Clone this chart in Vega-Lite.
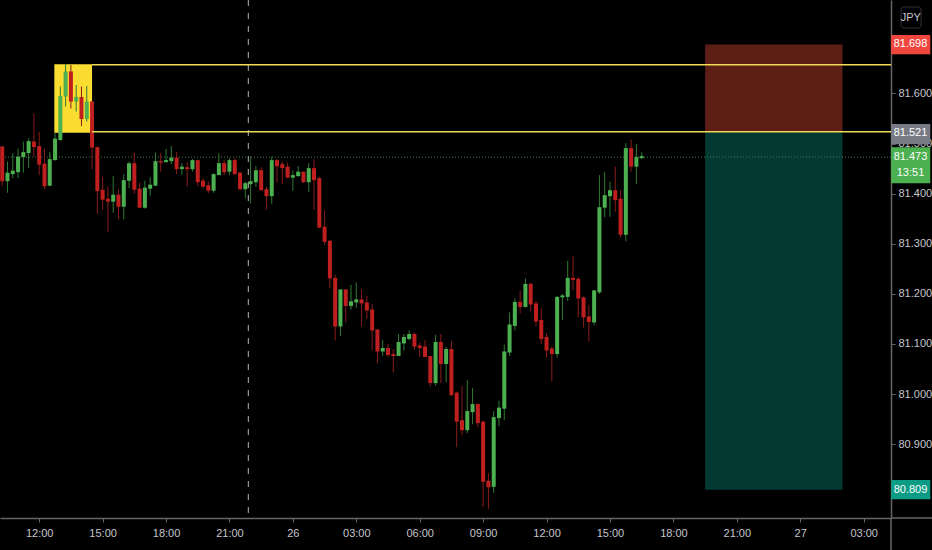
{
  "$schema": "https://vega.github.io/schema/vega-lite/v6.json",
  "description": "JPY pair 15 minute candles with a short position box.",
  "autosize": {"type": "none"},
  "width": 891,
  "height": 518,
  "padding": {"left": 0, "top": 0, "right": 41, "bottom": 32},
  "background": "#000000",
  "config": {"view": {"stroke": null}},
  "datasets": {
    "candles": [
      {"t":"2020-08-25T10:15","o":81.494,"h":81.495,"l":81.415,"c":81.425},
      {"t":"2020-08-25T10:30","o":81.425,"h":81.464,"l":81.402,"c":81.442},
      {"t":"2020-08-25T10:45","o":81.439,"h":81.481,"l":81.431,"c":81.446},
      {"t":"2020-08-25T11:00","o":81.443,"h":81.490,"l":81.431,"c":81.474},
      {"t":"2020-08-25T11:15","o":81.473,"h":81.504,"l":81.442,"c":81.483},
      {"t":"2020-08-25T11:30","o":81.481,"h":81.511,"l":81.451,"c":81.505},
      {"t":"2020-08-25T11:45","o":81.504,"h":81.560,"l":81.474,"c":81.493},
      {"t":"2020-08-25T12:00","o":81.495,"h":81.523,"l":81.437,"c":81.458},
      {"t":"2020-08-25T12:15","o":81.460,"h":81.490,"l":81.409,"c":81.415},
      {"t":"2020-08-25T12:30","o":81.416,"h":81.483,"l":81.415,"c":81.469},
      {"t":"2020-08-25T12:45","o":81.467,"h":81.521,"l":81.466,"c":81.510},
      {"t":"2020-08-25T13:00","o":81.507,"h":81.614,"l":81.506,"c":81.595},
      {"t":"2020-08-25T13:15","o":81.594,"h":81.659,"l":81.574,"c":81.644},
      {"t":"2020-08-25T13:30","o":81.644,"h":81.657,"l":81.570,"c":81.584},
      {"t":"2020-08-25T13:45","o":81.584,"h":81.617,"l":81.564,"c":81.593},
      {"t":"2020-08-25T14:00","o":81.593,"h":81.614,"l":81.535,"c":81.549},
      {"t":"2020-08-25T14:15","o":81.549,"h":81.615,"l":81.544,"c":81.584},
      {"t":"2020-08-25T14:30","o":81.584,"h":81.584,"l":81.449,"c":81.492},
      {"t":"2020-08-25T14:45","o":81.493,"h":81.493,"l":81.360,"c":81.405},
      {"t":"2020-08-25T15:00","o":81.408,"h":81.434,"l":81.368,"c":81.388},
      {"t":"2020-08-25T15:15","o":81.390,"h":81.414,"l":81.324,"c":81.384},
      {"t":"2020-08-25T15:30","o":81.384,"h":81.435,"l":81.362,"c":81.398},
      {"t":"2020-08-25T15:45","o":81.398,"h":81.409,"l":81.349,"c":81.374},
      {"t":"2020-08-25T16:00","o":81.374,"h":81.439,"l":81.349,"c":81.427},
      {"t":"2020-08-25T16:15","o":81.426,"h":81.464,"l":81.411,"c":81.461},
      {"t":"2020-08-25T16:30","o":81.461,"h":81.482,"l":81.400,"c":81.408},
      {"t":"2020-08-25T16:45","o":81.410,"h":81.422,"l":81.372,"c":81.372},
      {"t":"2020-08-25T17:00","o":81.372,"h":81.426,"l":81.370,"c":81.412},
      {"t":"2020-08-25T17:15","o":81.410,"h":81.433,"l":81.396,"c":81.418},
      {"t":"2020-08-25T17:30","o":81.416,"h":81.482,"l":81.415,"c":81.465},
      {"t":"2020-08-25T17:45","o":81.465,"h":81.481,"l":81.444,"c":81.462},
      {"t":"2020-08-25T18:00","o":81.463,"h":81.489,"l":81.462,"c":81.467},
      {"t":"2020-08-25T18:15","o":81.465,"h":81.495,"l":81.459,"c":81.472},
      {"t":"2020-08-25T18:30","o":81.472,"h":81.483,"l":81.439,"c":81.449},
      {"t":"2020-08-25T18:45","o":81.449,"h":81.461,"l":81.437,"c":81.454},
      {"t":"2020-08-25T19:00","o":81.453,"h":81.463,"l":81.414,"c":81.449},
      {"t":"2020-08-25T19:15","o":81.449,"h":81.469,"l":81.444,"c":81.467},
      {"t":"2020-08-25T19:30","o":81.467,"h":81.467,"l":81.415,"c":81.423},
      {"t":"2020-08-25T19:45","o":81.426,"h":81.431,"l":81.411,"c":81.414},
      {"t":"2020-08-25T20:00","o":81.417,"h":81.425,"l":81.401,"c":81.406},
      {"t":"2020-08-25T20:15","o":81.406,"h":81.441,"l":81.402,"c":81.439},
      {"t":"2020-08-25T20:30","o":81.437,"h":81.481,"l":81.437,"c":81.461},
      {"t":"2020-08-25T20:45","o":81.461,"h":81.467,"l":81.437,"c":81.443},
      {"t":"2020-08-25T21:00","o":81.444,"h":81.471,"l":81.437,"c":81.467},
      {"t":"2020-08-25T21:15","o":81.467,"h":81.471,"l":81.437,"c":81.439},
      {"t":"2020-08-25T21:30","o":81.442,"h":81.444,"l":81.407,"c":81.409},
      {"t":"2020-08-25T21:45","o":81.409,"h":81.424,"l":81.391,"c":81.421},
      {"t":"2020-08-25T22:00","o":81.419,"h":81.474,"l":81.381,"c":81.425},
      {"t":"2020-08-25T22:15","o":81.423,"h":81.455,"l":81.414,"c":81.447},
      {"t":"2020-08-25T22:30","o":81.447,"h":81.453,"l":81.406,"c":81.407},
      {"t":"2020-08-25T22:45","o":81.409,"h":81.414,"l":81.368,"c":81.395},
      {"t":"2020-08-25T23:00","o":81.395,"h":81.474,"l":81.380,"c":81.467},
      {"t":"2020-08-25T23:15","o":81.467,"h":81.469,"l":81.422,"c":81.455},
      {"t":"2020-08-25T23:30","o":81.459,"h":81.464,"l":81.419,"c":81.451},
      {"t":"2020-08-25T23:45","o":81.454,"h":81.462,"l":81.431,"c":81.432},
      {"t":"2020-08-26T00:00","o":81.432,"h":81.446,"l":81.406,"c":81.437},
      {"t":"2020-08-26T00:15","o":81.435,"h":81.455,"l":81.434,"c":81.444},
      {"t":"2020-08-26T00:30","o":81.444,"h":81.444,"l":81.421,"c":81.423},
      {"t":"2020-08-26T00:45","o":81.423,"h":81.461,"l":81.404,"c":81.451},
      {"t":"2020-08-26T01:00","o":81.451,"h":81.469,"l":81.368,"c":81.427},
      {"t":"2020-08-26T01:15","o":81.431,"h":81.434,"l":81.332,"c":81.332},
      {"t":"2020-08-26T01:30","o":81.334,"h":81.367,"l":81.298,"c":81.304},
      {"t":"2020-08-26T01:45","o":81.306,"h":81.308,"l":81.211,"c":81.231},
      {"t":"2020-08-26T02:00","o":81.232,"h":81.238,"l":81.107,"c":81.135},
      {"t":"2020-08-26T02:15","o":81.135,"h":81.209,"l":81.116,"c":81.209},
      {"t":"2020-08-26T02:30","o":81.209,"h":81.209,"l":81.143,"c":81.176},
      {"t":"2020-08-26T02:45","o":81.176,"h":81.218,"l":81.169,"c":81.185},
      {"t":"2020-08-26T03:00","o":81.183,"h":81.223,"l":81.172,"c":81.189},
      {"t":"2020-08-26T03:15","o":81.189,"h":81.209,"l":81.136,"c":81.181},
      {"t":"2020-08-26T03:30","o":81.183,"h":81.196,"l":81.150,"c":81.167},
      {"t":"2020-08-26T03:45","o":81.169,"h":81.180,"l":81.087,"c":81.127},
      {"t":"2020-08-26T04:00","o":81.129,"h":81.129,"l":81.062,"c":81.085},
      {"t":"2020-08-26T04:15","o":81.085,"h":81.108,"l":81.076,"c":81.092},
      {"t":"2020-08-26T04:30","o":81.092,"h":81.100,"l":81.074,"c":81.078},
      {"t":"2020-08-26T04:45","o":81.080,"h":81.090,"l":81.043,"c":81.076},
      {"t":"2020-08-26T05:00","o":81.076,"h":81.120,"l":81.076,"c":81.104},
      {"t":"2020-08-26T05:15","o":81.101,"h":81.120,"l":81.087,"c":81.114},
      {"t":"2020-08-26T05:30","o":81.110,"h":81.127,"l":81.107,"c":81.120},
      {"t":"2020-08-26T05:45","o":81.120,"h":81.123,"l":81.088,"c":81.095},
      {"t":"2020-08-26T06:00","o":81.097,"h":81.103,"l":81.074,"c":81.092},
      {"t":"2020-08-26T06:15","o":81.095,"h":81.108,"l":81.074,"c":81.074},
      {"t":"2020-08-26T06:30","o":81.076,"h":81.076,"l":81.015,"c":81.022},
      {"t":"2020-08-26T06:45","o":81.022,"h":81.118,"l":81.017,"c":81.104},
      {"t":"2020-08-26T07:00","o":81.104,"h":81.120,"l":81.022,"c":81.060},
      {"t":"2020-08-26T07:15","o":81.060,"h":81.094,"l":81.024,"c":81.090},
      {"t":"2020-08-26T07:30","o":81.090,"h":81.106,"l":80.996,"c":80.998},
      {"t":"2020-08-26T07:45","o":81.003,"h":81.005,"l":80.894,"c":80.945},
      {"t":"2020-08-26T08:00","o":80.948,"h":81.016,"l":80.918,"c":80.928},
      {"t":"2020-08-26T08:15","o":80.928,"h":81.028,"l":80.922,"c":80.966},
      {"t":"2020-08-26T08:30","o":80.964,"h":81.012,"l":80.940,"c":80.980},
      {"t":"2020-08-26T08:45","o":80.980,"h":80.982,"l":80.934,"c":80.942},
      {"t":"2020-08-26T09:00","o":80.945,"h":80.947,"l":80.775,"c":80.825},
      {"t":"2020-08-26T09:15","o":80.827,"h":80.842,"l":80.771,"c":80.814},
      {"t":"2020-08-26T09:30","o":80.815,"h":80.966,"l":80.803,"c":80.954},
      {"t":"2020-08-26T09:45","o":80.952,"h":80.987,"l":80.936,"c":80.973},
      {"t":"2020-08-26T10:00","o":80.971,"h":81.099,"l":80.948,"c":81.085},
      {"t":"2020-08-26T10:15","o":81.083,"h":81.163,"l":81.076,"c":81.139},
      {"t":"2020-08-26T10:30","o":81.136,"h":81.191,"l":81.127,"c":81.184},
      {"t":"2020-08-26T10:45","o":81.184,"h":81.207,"l":81.161,"c":81.174},
      {"t":"2020-08-26T11:00","o":81.174,"h":81.231,"l":81.173,"c":81.220},
      {"t":"2020-08-26T11:15","o":81.220,"h":81.222,"l":81.165,"c":81.179},
      {"t":"2020-08-26T11:30","o":81.181,"h":81.186,"l":81.135,"c":81.145},
      {"t":"2020-08-26T11:45","o":81.148,"h":81.171,"l":81.100,"c":81.110},
      {"t":"2020-08-26T12:00","o":81.114,"h":81.121,"l":81.073,"c":81.087},
      {"t":"2020-08-26T12:15","o":81.091,"h":81.095,"l":81.025,"c":81.080},
      {"t":"2020-08-26T12:30","o":81.080,"h":81.196,"l":81.073,"c":81.194},
      {"t":"2020-08-26T12:45","o":81.193,"h":81.200,"l":81.148,"c":81.197},
      {"t":"2020-08-26T13:00","o":81.194,"h":81.266,"l":81.186,"c":81.232},
      {"t":"2020-08-26T13:15","o":81.232,"h":81.276,"l":81.207,"c":81.228},
      {"t":"2020-08-26T13:30","o":81.230,"h":81.234,"l":81.153,"c":81.191},
      {"t":"2020-08-26T13:45","o":81.193,"h":81.195,"l":81.133,"c":81.153},
      {"t":"2020-08-26T14:00","o":81.155,"h":81.178,"l":81.105,"c":81.144},
      {"t":"2020-08-26T14:15","o":81.143,"h":81.208,"l":81.138,"c":81.207},
      {"t":"2020-08-26T14:30","o":81.203,"h":81.437,"l":81.200,"c":81.373},
      {"t":"2020-08-26T14:45","o":81.372,"h":81.444,"l":81.353,"c":81.397},
      {"t":"2020-08-26T15:00","o":81.395,"h":81.424,"l":81.354,"c":81.407},
      {"t":"2020-08-26T15:15","o":81.407,"h":81.454,"l":81.364,"c":81.387},
      {"t":"2020-08-26T15:30","o":81.390,"h":81.407,"l":81.312,"c":81.318},
      {"t":"2020-08-26T15:45","o":81.318,"h":81.501,"l":81.305,"c":81.491},
      {"t":"2020-08-26T16:00","o":81.491,"h":81.508,"l":81.444,"c":81.454},
      {"t":"2020-08-26T16:15","o":81.454,"h":81.499,"l":81.419,"c":81.473},
      {"t":"2020-08-26T16:30","o":81.471,"h":81.483,"l":81.469,"c":81.475}
    ],
    "boxes": [
      {"name":"highlight","t0":"2020-08-25T12:43","t1":"2020-08-25T14:30","p0":81.6583,"p1":81.5217},
      {"name":"stop zone","t0":"2020-08-26T19:30","t1":"2020-08-27T02:00","p0":81.698,"p1":81.5225},
      {"name":"target zone","t0":"2020-08-26T19:30","t1":"2020-08-27T02:00","p0":81.5225,"p1":80.809},
      {"name":"stop tag","t0":"2020-08-27T04:18","t1":"2020-08-27T06:09","p0":81.7167,"p1":81.6782},
      {"name":"entry tag","t0":"2020-08-27T04:18","t1":"2020-08-27T06:09","p0":81.5391,"p1":81.4986},
      {"name":"last tag","t0":"2020-08-27T04:18","t1":"2020-08-27T06:09","p0":81.4926,"p1":81.4207},
      {"name":"target tag","t0":"2020-08-27T04:18","t1":"2020-08-27T06:09","p0":80.8285,"p1":80.79}
    ],
    "levels": [
      {"t0":"2020-08-25T14:30","t1":"2020-08-27T04:18","p":81.6575},
      {"t0":"2020-08-25T14:30","t1":"2020-08-27T04:18","p":81.5235}
    ],
    "tags": [
      {"label":"81.698","t":"2020-08-27T05:13","p":81.698},
      {"label":"81.521","t":"2020-08-27T05:13","p":81.521},
      {"label":"81.473","t":"2020-08-27T05:13","p":81.473},
      {"label":"13:51","t":"2020-08-27T05:13","p":81.4413},
      {"label":"80.809","t":"2020-08-27T05:13","p":80.809}
    ]
  },
  "layer": [
    {
      "data": {"name": "boxes"},
      "mark": {"type": "rect"},
      "encoding": {
        "x": {
          "field": "t0",
          "type": "temporal",
          "title": null,
          "scale": {
            "domain": [
              {"year": 2020, "month": 8, "date": 25, "hours": 10, "minutes": 8, "seconds": 45},
              {"year": 2020, "month": 8, "date": 27, "hours": 4, "minutes": 17, "seconds": 36}
            ],
            "nice": false,
            "padding": 0
          },
          "axis": {
            "orient": "bottom",
            "grid": false,
            "format": "%H:%M",
            "labelExpr": "hours(datum.value) == 0 ? date(datum.value) : datum.label",
            "domainColor": "#666666",
            "domainWidth": 1.5,
            "tickColor": "#666666",
            "tickSize": 4,
            "labelColor": "#c4c6cc",
            "labelFont": "Liberation Sans",
            "labelFontSize": 11,
            "labelPadding": 5,
            "labelAngle": 0
          }
        },
        "x2": {"field": "t1"},
        "y": {
          "field": "p0",
          "type": "quantitative",
          "title": null,
          "scale": {"domain": [80.7527, 81.7866], "nice": false, "zero": false},
          "axis": {
            "orient": "right",
            "grid": false,
            "values": [80.9, 81.0, 81.1, 81.2, 81.3, 81.4, 81.5, 81.6],
            "format": ".3f",
            "domainColor": "#666666",
            "domainWidth": 1.5,
            "tickColor": "#666666",
            "tickSize": 4,
            "labelColor": "#c4c6cc",
            "labelFont": "Liberation Sans",
            "labelFontSize": 11,
            "labelPadding": 3
          }
        },
        "y2": {"field": "p1"},
        "color": {
          "field": "name",
          "type": "nominal",
          "legend": null,
          "scale": {
            "domain": ["highlight", "stop zone", "target zone", "stop tag", "entry tag", "last tag", "target tag"],
            "range": ["#fbdc30", "#5c1e15", "#023a33", "#f2473f", "#787b86", "#4caf50", "#0c9c85"]
          }
        }
      }
    },
    {
      "data": {"values": [{"p": 81.473}]},
      "mark": {"type": "rule", "color": "#3f7f47", "strokeDash": [1, 2], "strokeWidth": 1},
      "encoding": {"y": {"field": "p", "type": "quantitative"}}
    },
    {
      "data": {"values": [{"t": "2020-08-25T21:53:30"}]},
      "mark": {"type": "rule", "color": "#b4b4b4", "strokeDash": [6, 7], "strokeWidth": 1},
      "encoding": {"x": {"field": "t", "type": "temporal"}}
    },
    {
      "data": {"values": [{"t": "2020-08-27T04:17:36", "p0": 80.7527, "p1": 80.6888}]},
      "mark": {"type": "rule", "color": "#666666", "strokeWidth": 1.5},
      "encoding": {
        "x": {"field": "t", "type": "temporal"},
        "y": {"field": "p0", "type": "quantitative"},
        "y2": {"field": "p1"}
      }
    },
    {
      "data": {"values": [{"t0": "2020-08-27T04:17:36", "t1": "2020-08-27T06:14", "p": 80.7527}]},
      "mark": {"type": "rule", "color": "#666666", "strokeWidth": 1.5},
      "encoding": {
        "x": {"field": "t0", "type": "temporal"},
        "x2": {"field": "t1"},
        "y": {"field": "p", "type": "quantitative"}
      }
    },
    {
      "data": {"name": "candles"},
      "mark": {"type": "rule", "strokeWidth": 1},
      "encoding": {
        "x": {"field": "t", "type": "temporal"},
        "y": {"field": "l", "type": "quantitative"},
        "y2": {"field": "h"},
        "color": {
          "condition": {"test": "datum.c >= datum.o", "value": "#2f7a35"},
          "value": "#8a1c1c"
        }
      }
    },
    {
      "data": {"name": "candles"},
      "mark": {"type": "bar", "size": 4},
      "encoding": {
        "x": {"field": "t", "type": "temporal"},
        "y": {"field": "o", "type": "quantitative"},
        "y2": {"field": "c"},
        "color": {
          "condition": {"test": "datum.c >= datum.o", "value": "#4caf50"},
          "value": "#c01f1f"
        }
      }
    },
    {
      "data": {"name": "levels"},
      "mark": {"type": "rule", "color": "#f2dc55", "strokeWidth": 1.5},
      "encoding": {
        "x": {"field": "t0", "type": "temporal"},
        "x2": {"field": "t1"},
        "y": {"field": "p", "type": "quantitative"}
      }
    },
    {
      "data": {"values": [{"t0": "2020-08-27T04:46", "t1": "2020-08-27T05:43", "p0": 81.7726, "p1": 81.7307}]},
      "mark": {"type": "rect", "fill": "#000000", "stroke": "#333333", "strokeWidth": 1, "cornerRadius": 3},
      "encoding": {
        "x": {"field": "t0", "type": "temporal"},
        "x2": {"field": "t1"},
        "y": {"field": "p0", "type": "quantitative"},
        "y2": {"field": "p1"}
      }
    },
    {
      "data": {"values": [{"label": "JPY", "t": "2020-08-27T05:14", "p": 81.7516}]},
      "mark": {"type": "text", "color": "#c4c6cc", "fontSize": 11, "font": "Liberation Sans"},
      "encoding": {
        "x": {"field": "t", "type": "temporal"},
        "y": {"field": "p", "type": "quantitative"},
        "text": {"field": "label"}
      }
    },
    {
      "data": {"name": "tags"},
      "mark": {"type": "text", "color": "#ffffff", "fontSize": 11, "font": "Liberation Sans"},
      "encoding": {
        "x": {"field": "t", "type": "temporal"},
        "y": {"field": "p", "type": "quantitative"},
        "text": {"field": "label"}
      }
    }
  ]
}
